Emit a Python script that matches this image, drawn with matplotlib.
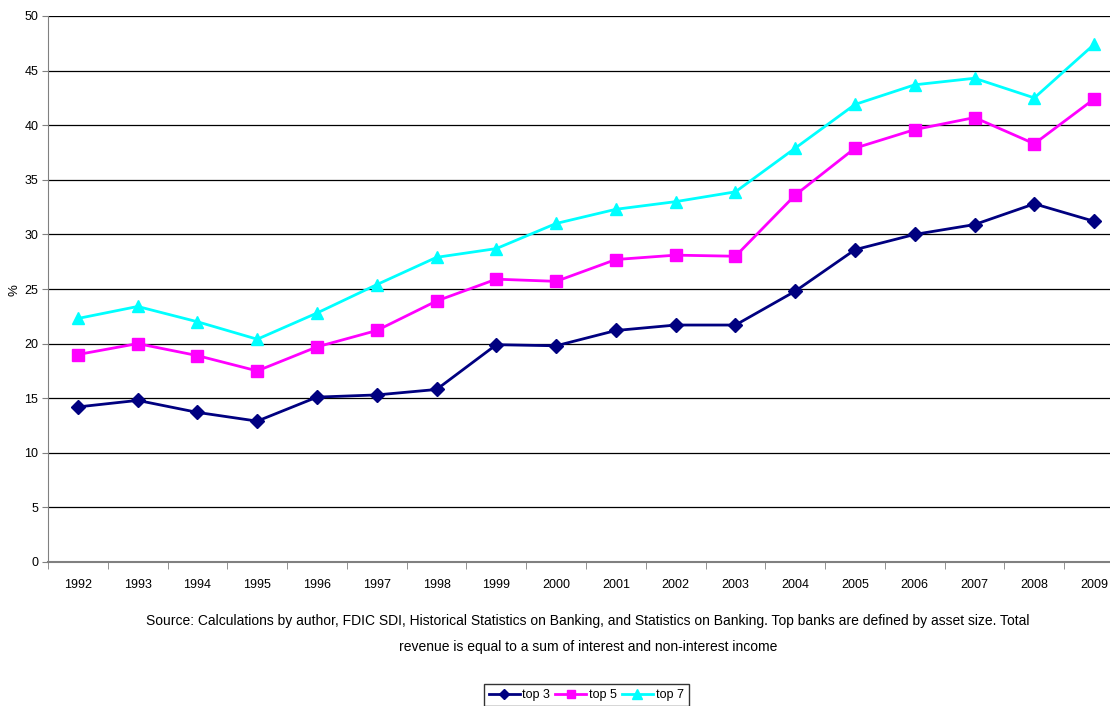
import matplotlib
matplotlib.use("Agg")
import matplotlib.pyplot as plt

years = [str(y) for y in range(1992, 2010)]
top3 = [14.2, 14.8, 13.7, 12.9, 15.1, 15.3, 15.8, 19.9, 19.8, 21.2, 21.7, 21.7, 24.8, 28.6, 30.0, 30.9, 32.8, 31.2]
top5 = [19.0, 20.0, 18.9, 17.5, 19.7, 21.2, 23.9, 25.9, 25.7, 27.7, 28.1, 28.0, 33.6, 37.9, 39.6, 40.7, 38.3, 42.4]
top7 = [22.3, 23.4, 22.0, 20.4, 22.8, 25.4, 27.9, 28.7, 31.0, 32.3, 33.0, 33.9, 37.9, 41.9, 43.7, 44.3, 42.5, 47.4]
yticks = list(range(0, 51, 5))

plt.rcParams['font.family'] = ['Liberation Sans', 'DejaVu Sans']
tick_fs = 9

fig = plt.figure(figsize=(11.10, 7.06), dpi=100)
ax = fig.add_axes([48/1110, 1 - 562/706, (1124 - 48)/1110, (562 - 16)/706])

x = list(range(len(years)))
ax.plot(x, top3, color='#000080', marker='D', markersize=7, linewidth=2, label='top 3', zorder=3, clip_on=False)
ax.plot(x, top5, color='#FF00FF', marker='s', markersize=8, linewidth=2, label='top 5', zorder=3, clip_on=False)
ax.plot(x, top7, color='#00FFFF', marker='^', markersize=9, linewidth=2, label='top 7', zorder=3, clip_on=False)

ax.set_xlim(-0.5, len(years) - 0.5)
ax.set_ylim(0, 50)
ax.set_yticks(yticks)
ax.set_yticklabels([str(v) for v in yticks], fontsize=tick_fs)
ax.yaxis.grid(True, color='black', linewidth=0.9)
ax.set_axisbelow(True)

ax.set_xticks(x)
ax.set_xticklabels(years, fontsize=tick_fs)
ax.tick_params(axis='x', length=0, pad=12)
ax.set_xticks([i - 0.5 for i in range(len(years) + 1)], minor=True)
ax.tick_params(axis='x', which='minor', length=5, color='#808080', direction='out')
ax.tick_params(axis='y', length=4, color='#808080', direction='out', pad=3)

for s in ['top', 'right']:
    ax.spines[s].set_visible(False)
ax.spines['left'].set_color('#808080')
ax.spines['bottom'].set_color('#808080')
ax.spines['bottom'].set_linewidth(1.5)

fig.text(14/1110, 1 - 290/706, '%', rotation=90, ha='center', va='center', fontsize=9.5)

fig.text(588/1110, 1 - 621/706, 'Source: Calculations by author, FDIC SDI, Historical Statistics on Banking, and Statistics on Banking. Top banks are defined by asset size. Total',
         ha='center', va='center', fontsize=10)
fig.text(588/1110, 1 - 647/706, 'revenue is equal to a sum of interest and non-interest income',
         ha='center', va='center', fontsize=10)

leg = fig.legend(loc='center', bbox_to_anchor=(586/1110, 1 - 695/706), ncol=3, frameon=True,
                 fancybox=False, edgecolor='black', fontsize=tick_fs, handlelength=2.5,
                 columnspacing=0.4, handletextpad=0.2, borderpad=0.4, markerscale=0.8)
leg.get_frame().set_linewidth(1.0)

fig.savefig('out.png', dpi=100)
